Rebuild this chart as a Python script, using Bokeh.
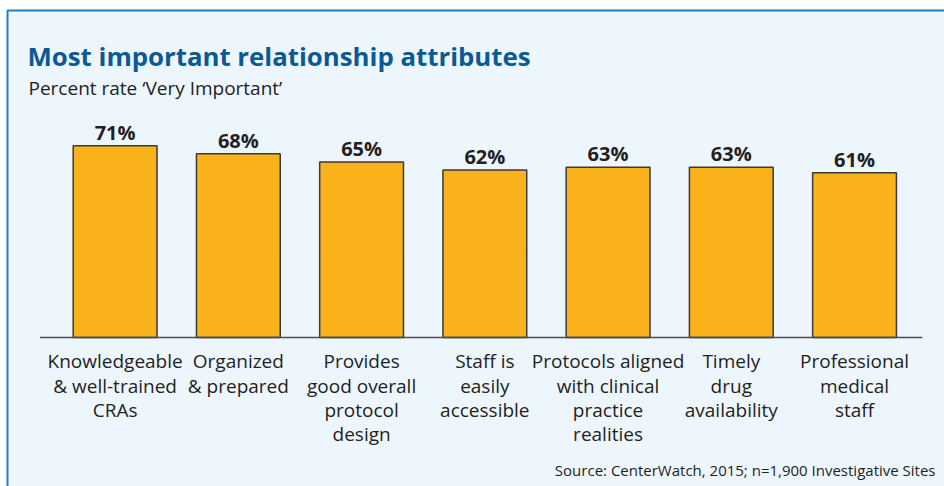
from bokeh.plotting import figure
from bokeh.models import Range1d, ColumnDataSource, Label, BoxAnnotation
from bokeh.core.properties import value
from bokeh.embed import file_html
from bokeh.resources import INLINE

# ---- data ----
categories = [
    "Knowledgeable\n& well-trained\nCRAs",
    "Organized\n& prepared",
    "Provides\ngood overall\nprotocol\ndesign",
    "Staff is\neasily\naccessible",
    "Protocols aligned\nwith clinical\npractice\nrealities",
    "Timely\ndrug\navailability",
    "Professional\nmedical\nstaff",
]
values = [71, 68, 65, 62, 63, 63, 61]
value_labels = [f"{v}%" for v in values]

title_text = "Most important relationship attributes"
subtitle_text = "Percent rate \u2018Very Important\u2019"
source_text = "Source: CenterWatch, 2015; n=1,900 Investigative Sites"

# ---- style ----
BG = "#eef6fd"
BORDER = "#1b80c8"
BAR = "#f9b21a"
BAR_LINE = "#3a3a3a"
AXIS = "#4d4d4d"
TEXT = "#231f20"
TITLE = "#0a5a94"
FONT = "Open Sans"

n = len(categories)
xpos = list(range(n))
src = ColumnDataSource(dict(x=xpos, cat=categories, val=values, lbl=value_labels, zero=[0] * n))

p = figure(
    width=944, height=486,
    x_range=Range1d(-0.93, n - 1 + 0.73),
    y_range=Range1d(-55.2, 124.8),
    output_backend="svg", toolbar_location=None,
    x_axis_location=None, y_axis_location=None,
    min_border_left=0, min_border_right=0, min_border_top=0, min_border_bottom=0,
)
p.grid.visible = False
p.outline_line_color = None
p.background_fill_color = "white"
p.border_fill_color = "white"

box = BoxAnnotation(left=7, right=2000, top=10, bottom=2000,
                    left_units="canvas", right_units="canvas", top_units="canvas", bottom_units="canvas",
                    fill_color=BG, fill_alpha=1, line_color=BORDER, line_alpha=1, line_width=2,
                    level="underlay")
p.add_layout(box)

p.vbar(x="x", top="val", bottom=0, width=0.68, source=src,
       fill_color=BAR, line_color=BAR_LINE, line_width=1.5)

# baseline
p.segment(x0=[-0.61], y0=[0], x1=[n - 1 + 0.55], y1=[0], line_color=AXIS, line_width=1.5)

p.text(x="x", y="val", text="lbl", source=src, y_offset=-27,
       text_align="center", text_baseline="top",
       text_font=value(FONT), text_font_style="bold", text_font_size="20px", text_color=TEXT)

p.text(x="x", y="zero", text="cat", source=src, y_offset=11,
       text_align="center", text_baseline="top", text_line_height=0.93,
       text_font=value(FONT), text_font_size="19px", text_color=TEXT)

p.add_layout(Label(x=27, y=37, x_units="canvas", y_units="canvas", text=title_text,
                   text_baseline="top", text_font=FONT, text_font_style="bold",
                   text_font_size="25.8px", text_color=TITLE))
p.add_layout(Label(x=28, y=74, x_units="canvas", y_units="canvas", text=subtitle_text,
                   text_baseline="top", text_font=FONT,
                   text_font_size="19px", text_color=TEXT))
p.add_layout(Label(x=935, y=459, x_units="canvas", y_units="canvas", text=source_text,
                   text_align="right", text_baseline="top", text_font=FONT,
                   text_font_size="15px", text_color=TEXT))

open("out.html", "w").write(file_html(p, INLINE))
